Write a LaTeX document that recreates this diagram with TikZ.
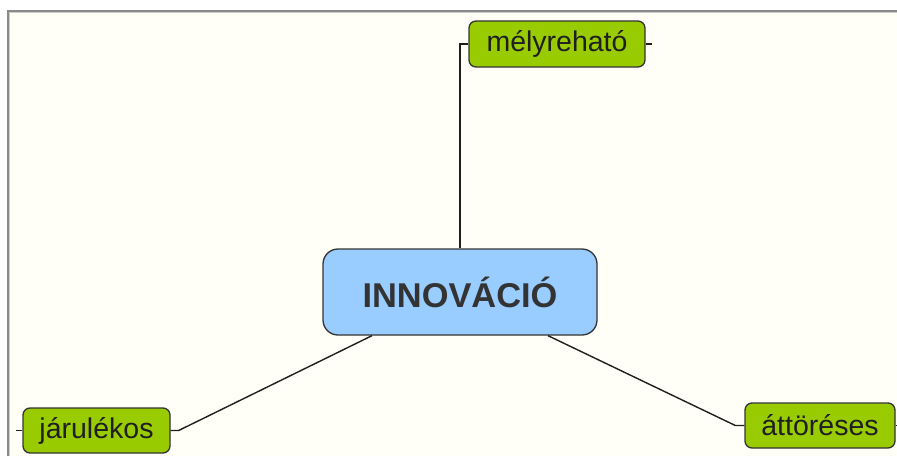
\documentclass[tikz,border=0pt]{standalone}
\usepackage{fontspec}
\setmainfont{Liberation Sans}
\definecolor{paper}{HTML}{FFFFF7}
\definecolor{leaf}{HTML}{99CC00}
\definecolor{hub}{HTML}{99CCFF}
\definecolor{edgegray}{HTML}{333333}
\definecolor{frame}{HTML}{8A8A8A}

\begin{document}
\begin{tikzpicture}[x=1pt,y=-1pt,
  leafbox/.style={draw=edgegray, line width=1.3pt, fill=leaf, rounded corners=7pt,
    inner sep=0pt, font=\fontsize{28.5}{30}\selectfont, text=black!88},
  hubbox/.style={draw=edgegray, line width=1.3pt, fill=hub, rounded corners=15pt,
    minimum width=274pt, minimum height=86pt, inner sep=0pt,
    font=\fontsize{34.4}{36}\selectfont\bfseries, text=edgegray},
  link/.style={draw=black!88, line width=1.4pt}]

% canvas and window frame
\useasboundingbox (0,0) rectangle (897,456);
\fill[white] (0,0) rectangle (897,456);
\fill[paper] (9,12) rectangle (897,456);
\draw[frame, line width=2pt] (8,456) -- (8,11) -- (897,11);
\draw[black!20, line width=0.8pt] (9.6,456) -- (9.6,12.6) -- (897,12.6);

% central topic
\node[hubbox] (hub) at (460,292) {INNOVÁCIÓ};

% subtopics
\node[leafbox, minimum width=176pt, minimum height=46pt] (mely) at (557,44) {mélyreható};
\node[leafbox, minimum width=147pt, minimum height=45pt] (jar) at (96.5,430.5) {járulékos};
\node[leafbox, minimum width=150pt, minimum height=45pt] (att) at (820,425.5) {áttöréses};

% connector elbows and free tick ends
\coordinate (melyIn) at ([xshift=-9pt]mely.west);
\coordinate (melyOut) at ([xshift=6pt]mely.east);
\coordinate (jarIn) at ([xshift=8pt]jar.east);
\coordinate (jarOut) at ([xshift=-6pt]jar.west);
\coordinate (attIn) at ([xshift=-9pt]att.west);
\coordinate (attOut) at ([xshift=6pt]att.east);

% connectors
\draw[link] (hub.north) -- (hub.north |- melyIn) -- (mely.west);
\draw[link] ([xshift=-88pt]hub.south) -- (jarIn) -- (jar.east);
\draw[link] ([xshift=88pt]hub.south) -- (attIn) -- (att.west);

% short stubs on the outer sides
\draw[link] (mely.east) -- (melyOut);
\draw[link] (jar.west) -- (jarOut);
\draw[link] (att.east) -- (attOut);
\end{tikzpicture}
\end{document}
